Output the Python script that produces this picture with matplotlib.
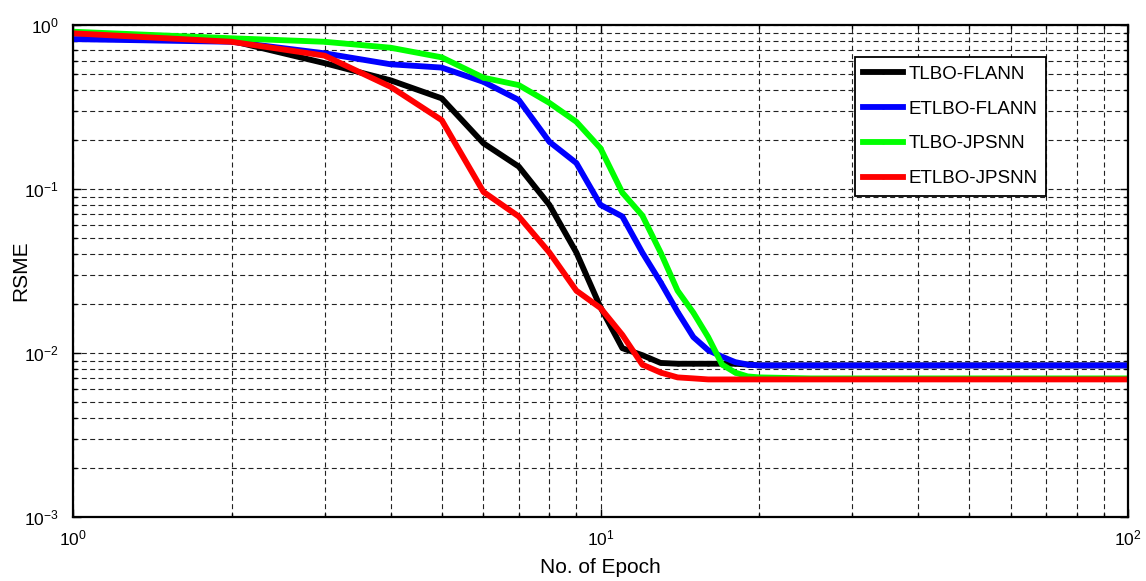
import matplotlib
matplotlib.use("Agg")
import matplotlib.pyplot as plt
from matplotlib.ticker import LogLocator, NullFormatter

plt.rcParams['font.family'] = ['Liberation Sans', 'DejaVu Sans']
plt.rcParams['mathtext.fontset'] = 'custom'
plt.rcParams['mathtext.rm'] = 'Liberation Sans'
plt.rcParams['mathtext.it'] = 'Liberation Sans'

epochs = [1, 2, 3, 4, 5, 6, 7, 8, 9, 10, 11, 12, 13, 14, 15, 16, 17, 18, 19, 20,
          25, 30, 40, 50, 60, 70, 80, 90, 100]

tlbo_flann = [0.89, 0.80, 0.585, 0.46, 0.357, 0.19, 0.137, 0.08, 0.041, 0.019,
              0.0107, 0.0097, 0.0087, 0.0086, 0.0086, 0.0086, 0.0086, 0.0086, 0.0085, 0.0084,
              0.0084, 0.0084, 0.0084, 0.0084, 0.0084, 0.0084, 0.0084, 0.0084, 0.0084]
etlbo_flann = [0.82, 0.79, 0.672, 0.576, 0.55, 0.45, 0.349, 0.194, 0.144, 0.08,
               0.068, 0.041, 0.027, 0.0178, 0.0125, 0.0104, 0.0095, 0.0088, 0.0085, 0.0084,
               0.0084, 0.0084, 0.0084, 0.0084, 0.0084, 0.0084, 0.0084, 0.0084, 0.0084]
tlbo_jpsnn = [0.91, 0.83, 0.79, 0.727, 0.635, 0.477, 0.43, 0.335, 0.257, 0.177,
              0.095, 0.069, 0.041, 0.024, 0.0176, 0.0125, 0.0085, 0.0076, 0.0072, 0.0071,
              0.0070, 0.0070, 0.0070, 0.0070, 0.0070, 0.0070, 0.0070, 0.0070, 0.0070]
etlbo_jpsnn = [0.89, 0.79, 0.65, 0.42, 0.263, 0.096, 0.068, 0.041, 0.024, 0.0188,
               0.0129, 0.0085, 0.0076, 0.0071, 0.0070, 0.0069, 0.0069, 0.0069, 0.0069, 0.0069,
               0.0069, 0.0069, 0.0069, 0.0069, 0.0069, 0.0069, 0.0069, 0.0069, 0.0069]

series = [
    ("TLBO-FLANN", tlbo_flann, "#000000"),
    ("ETLBO-FLANN", etlbo_flann, "#0000ff"),
    ("TLBO-JPSNN", tlbo_jpsnn, "#00ff00"),
    ("ETLBO-JPSNN", etlbo_jpsnn, "#ff0000"),
]

fig = plt.figure(figsize=(11.46, 5.81), dpi=100)
ax = fig.add_axes([73/1146, 64/581, (1128-73)/1146, (517-25)/581])

for name, vals, col in series:
    ax.plot(epochs, vals, color=col, lw=4.2, marker='.', markersize=4, label=name,
            solid_joinstyle='round')

ax.set_xscale('log')
ax.set_yscale('log')
ax.set_xlim(1, 100)
ax.set_ylim(1e-3, 1)

ax.xaxis.set_major_locator(LogLocator(base=10, numticks=10))
ax.yaxis.set_major_locator(LogLocator(base=10, numticks=10))
ax.xaxis.set_minor_locator(LogLocator(base=10, subs=range(2, 10), numticks=20))
ax.yaxis.set_minor_locator(LogLocator(base=10, subs=range(2, 10), numticks=20))
ax.xaxis.set_minor_formatter(NullFormatter())
ax.yaxis.set_minor_formatter(NullFormatter())

ax.grid(True, which='both', color='#222222', linestyle=(0, (4.5, 3)), linewidth=0.8)
ax.set_axisbelow(True)

ax.tick_params(which='both', direction='in', top=True, right=True, labelsize=12.5, width=1)
ax.tick_params(axis='y', which='major', length=6, pad=10)
ax.tick_params(axis='x', which='major', length=6, pad=8)
ax.tick_params(which='minor', length=3)
for s in ax.spines.values():
    s.set_linewidth(1.6)

ax.set_xlabel("No. of Epoch", fontsize=15)
ax.set_ylabel("RSME", fontsize=15)
ax.xaxis.set_label_coords(0.5, -(558 - 517) / 492)
ax.yaxis.set_label_coords(-(73 - 30) / 1055, 0.5)

leg = ax.legend(loc='upper left', bbox_to_anchor=((855-73)/1055, (517-57)/492),
                fontsize=13.5, frameon=True, fancybox=False, edgecolor='black',
                handlelength=2.1, borderpad=0.45, labelspacing=0.95, handletextpad=0.3,
                borderaxespad=0, framealpha=1)
leg.get_frame().set_linewidth(1.3)

fig.savefig("out.png", dpi=100, facecolor='white')
